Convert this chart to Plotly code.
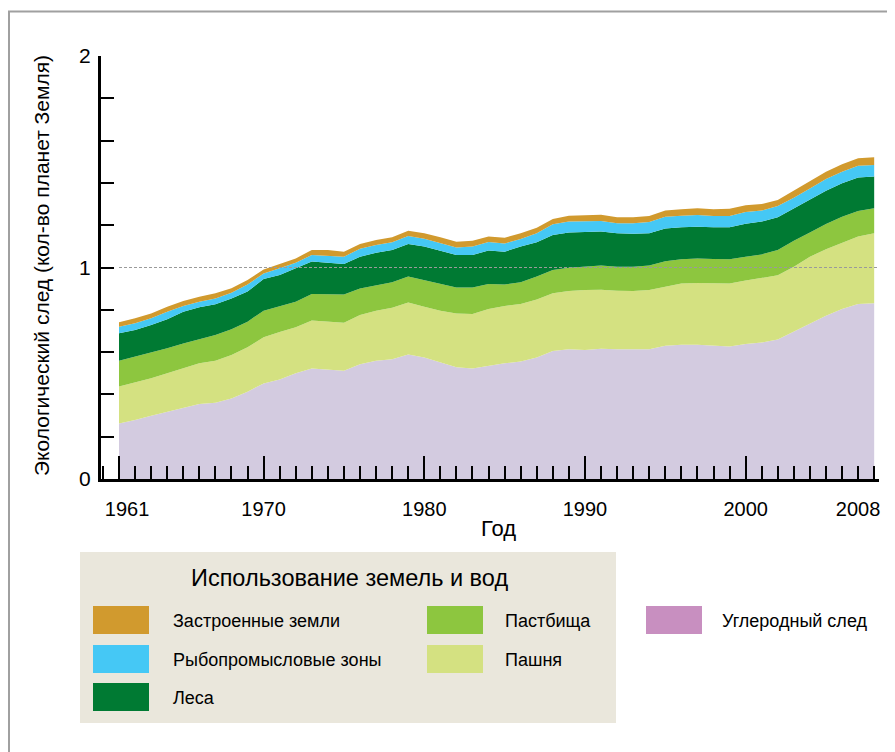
import plotly.graph_objects as go

# ---------------- data ----------------
years = [1961, 1962, 1963, 1964, 1965, 1966, 1967, 1968, 1969, 1970,
         1971, 1972, 1973, 1974, 1975, 1976, 1977, 1978, 1979, 1980,
         1981, 1982, 1983, 1984, 1985, 1986, 1987, 1988, 1989, 1990,
         1991, 1992, 1993, 1994, 1995, 1996, 1997, 1998, 1999, 2000,
         2001, 2002, 2003, 2004, 2005, 2006, 2007, 2008]

carbon = [0.263, 0.279, 0.299, 0.318, 0.339, 0.355, 0.361, 0.381, 0.413, 0.452,
          0.471, 0.500, 0.523, 0.519, 0.512, 0.542, 0.559, 0.566, 0.589, 0.575,
          0.550, 0.528, 0.523, 0.536, 0.547, 0.555, 0.575, 0.605, 0.613, 0.610,
          0.616, 0.613, 0.613, 0.613, 0.630, 0.635, 0.635, 0.632, 0.626, 0.638,
          0.645, 0.660, 0.697, 0.736, 0.772, 0.804, 0.827, 0.831]

cropland = [0.174, 0.178, 0.177, 0.182, 0.184, 0.192, 0.198, 0.205, 0.210, 0.218,
            0.224, 0.217, 0.227, 0.227, 0.227, 0.233, 0.237, 0.244, 0.245, 0.240,
            0.246, 0.255, 0.257, 0.268, 0.271, 0.272, 0.274, 0.273, 0.276, 0.284,
            0.279, 0.277, 0.276, 0.281, 0.279, 0.289, 0.292, 0.295, 0.298, 0.300,
            0.304, 0.303, 0.307, 0.315, 0.314, 0.313, 0.319, 0.331]

grazing = [0.122, 0.121, 0.121, 0.118, 0.118, 0.115, 0.122, 0.122, 0.121, 0.126,
           0.123, 0.121, 0.125, 0.129, 0.133, 0.126, 0.121, 0.120, 0.123, 0.126,
           0.126, 0.123, 0.126, 0.118, 0.102, 0.103, 0.108, 0.110, 0.110, 0.110,
           0.115, 0.114, 0.115, 0.115, 0.120, 0.115, 0.115, 0.113, 0.115, 0.113,
           0.113, 0.120, 0.123, 0.115, 0.120, 0.123, 0.121, 0.118]

forest = [0.130, 0.126, 0.131, 0.137, 0.150, 0.150, 0.145, 0.146, 0.142, 0.150,
          0.147, 0.158, 0.153, 0.148, 0.145, 0.150, 0.153, 0.153, 0.154, 0.158,
          0.156, 0.153, 0.153, 0.158, 0.155, 0.169, 0.162, 0.166, 0.167, 0.164,
          0.160, 0.158, 0.156, 0.153, 0.155, 0.151, 0.151, 0.150, 0.151, 0.156,
          0.155, 0.154, 0.153, 0.153, 0.157, 0.158, 0.158, 0.150]

fishing = [0.031, 0.032, 0.032, 0.036, 0.027, 0.026, 0.028, 0.027, 0.034, 0.026,
           0.031, 0.027, 0.031, 0.033, 0.034, 0.038, 0.036, 0.036, 0.038, 0.037,
           0.036, 0.036, 0.040, 0.041, 0.039, 0.036, 0.043, 0.050, 0.051, 0.049,
           0.050, 0.047, 0.049, 0.053, 0.056, 0.055, 0.055, 0.053, 0.053, 0.055,
           0.052, 0.054, 0.050, 0.055, 0.055, 0.055, 0.056, 0.055]

built = [0.021, 0.024, 0.023, 0.024, 0.024, 0.024, 0.024, 0.021, 0.021, 0.019,
         0.021, 0.020, 0.024, 0.027, 0.024, 0.022, 0.024, 0.024, 0.025, 0.026,
         0.029, 0.027, 0.028, 0.025, 0.027, 0.027, 0.026, 0.025, 0.028, 0.029,
         0.030, 0.028, 0.028, 0.028, 0.029, 0.030, 0.032, 0.032, 0.035, 0.032,
         0.031, 0.028, 0.033, 0.032, 0.035, 0.035, 0.035, 0.036]

series_names = ["Углеродный след", "Пашня", "Пастбища", "Леса",
                "Рыбопромысловые зоны", "Застроенные земли"]
series_values = [carbon, cropland, grazing, forest, fishing, built]

x_major_ticks = [1961, 1970, 1980, 1990, 2000]
x_label_pos = [1961.5, 1970, 1980, 1990, 2000, 2007]
x_label_text = ["1961", "1970", "1980", "1990", "2000", "2008"]
y_tick_vals = [0, 1, 2]
y_tick_text = ["0", "1", "2"]

# ---------------- styles ----------------
area_colors = ["#D3CBE0", "#D4E181", "#8DC63F", "#007A33", "#45C8F5", "#D19A2E"]
carbon_legend_color = "#C88FC0"
legend_bg = "#EAE7DC"
FONT = "Liberation Sans, Arial, sans-serif"

OFF = 8                      # default body margin of the page
W, H = 895 - OFF, 752 - OFF  # figure size so that it fills the window
# plot area in screen pixels
L, R, T, B = 101, 879, 56, 479


def px(xs):
    return (xs - L) / (R - L)


def py(ys):
    return (B - ys) / (B - T)


fig = go.Figure()
for name, vals, col in zip(series_names, series_values, area_colors):
    fig.add_trace(go.Scatter(
        x=years, y=vals, name=name, mode="lines", stackgroup="one",
        line=dict(width=0, color=col), fillcolor=col, showlegend=False,
        hoverinfo="x+y+name"))

# invisible trace so the label axis is drawn
fig.add_trace(go.Scatter(x=[years[0]], y=[0], xaxis="x2", mode="markers",
                         marker=dict(opacity=0), showlegend=False, hoverinfo="skip"))

x_range = [1959.88, 2008.3]

fig.update_layout(
    width=W, height=H,
    margin=dict(l=L - OFF, r=W - (R - OFF), t=T - OFF, b=H - (B - OFF), pad=0),
    paper_bgcolor="white", plot_bgcolor="white",
    font=dict(family=FONT, color="black"),
    showlegend=False,
    xaxis=dict(
        range=x_range, showgrid=False, zeroline=False,
        showline=True, linewidth=3, linecolor="black",
        tickmode="array", tickvals=x_major_ticks, showticklabels=False,
        ticks="inside", ticklen=23, tickwidth=2, tickcolor="black",
        minor=dict(tick0=1961, dtick=1, ticks="inside", ticklen=13,
                   tickwidth=2, tickcolor="black", showgrid=False),
    ),
    xaxis2=dict(
        range=x_range, overlaying="x", anchor="y", side="bottom",
        showgrid=False, zeroline=False, showline=False, ticks="",
        tickmode="array", tickvals=x_label_pos, ticktext=x_label_text,
        tickfont=dict(size=20, family=FONT, color="black"),
        ticklabelstandoff=16,
    ),
    yaxis=dict(
        range=[0, 2], showgrid=False, zeroline=False,
        showline=True, linewidth=3, linecolor="black",
        tickmode="array", tickvals=y_tick_vals, ticktext=y_tick_text,
        ticks="inside", ticklen=13, tickwidth=2, tickcolor="black",
        tickfont=dict(size=21, family=FONT, color="black"),
        ticklabelstandoff=3,
        minor=dict(dtick=0.2, tick0=0, ticks="inside", ticklen=13,
                   tickwidth=2, tickcolor="black", showgrid=False),
    ),
)

shapes = []
# reference line at 1 planet
shapes.append(dict(type="line", xref="x", yref="y", x0=1961, x1=2008.3, y0=1, y1=1,
                   line=dict(color="#9A9A9A", width=1, dash="3px,2px"), layer="above"))
# outer frame (top and left edges)
shapes.append(dict(type="line", xref="paper", yref="paper",
                   x0=px(8), x1=px(905), y0=py(11.5), y1=py(11.5),
                   line=dict(color="#A0A0A0", width=2)))
shapes.append(dict(type="line", xref="paper", yref="paper",
                   x0=px(9), x1=px(9), y0=py(11), y1=py(770),
                   line=dict(color="#A0A0A0", width=2)))
# legend box
shapes.append(dict(type="rect", xref="paper", yref="paper",
                   x0=px(80), x1=px(616), y0=py(552), y1=py(723),
                   fillcolor=legend_bg, line=dict(width=0), layer="below"))

annotations = []
# axis titles
annotations.append(dict(xref="paper", yref="paper", x=px(41), y=py(266),
                        text="Экологический след (кол-во планет Земля)", textangle=-90,
                        showarrow=False, font=dict(size=21, family=FONT, color="black"),
                        xanchor="center", yanchor="middle"))
annotations.append(dict(xref="paper", yref="paper", x=px(498), y=py(528),
                        text="Год", showarrow=False,
                        font=dict(size=22, family=FONT, color="black"),
                        xanchor="center", yanchor="middle"))
# legend title
annotations.append(dict(xref="paper", yref="paper", x=px(349), y=py(578),
                        text="Использование земель и вод", showarrow=False,
                        font=dict(size=23.5, family=FONT, color="black"),
                        xanchor="center", yanchor="middle"))

legend_items = [
    # (name index, swatch x0, row y center, text x, swatch color)
    (5, 93, 620, 171, area_colors[5]),
    (4, 93, 659, 171, area_colors[4]),
    (3, 93, 697, 171, area_colors[3]),
    (2, 427, 620, 503, area_colors[2]),
    (1, 427, 659, 503, area_colors[1]),
    (0, 646, 620, 720, carbon_legend_color),
]
for idx, sx, cy, tx, col in legend_items:
    shapes.append(dict(type="rect", xref="paper", yref="paper",
                       x0=px(sx), x1=px(sx + 56), y0=py(cy - 14), y1=py(cy + 14),
                       fillcolor=col, line=dict(width=0)))
    annotations.append(dict(xref="paper", yref="paper", x=px(tx), y=py(cy + 1),
                            text=series_names[idx], showarrow=False,
                            font=dict(size=18, family=FONT, color="black"),
                            xanchor="left", yanchor="middle"))

fig.update_layout(shapes=shapes, annotations=annotations)
fig.write_html("out.html")
